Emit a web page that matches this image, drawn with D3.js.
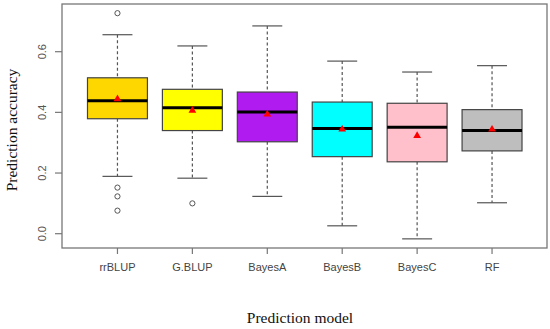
<!DOCTYPE html>
<html><head><meta charset="utf-8">
<script src="https://cdn.jsdelivr.net/npm/d3@7"></script>
<style>body{margin:0;background:#fff}svg{display:block}</style>
</head><body>
<script>
const models = ["rrBLUP","G.BLUP","BayesA","BayesB","BayesC","RF"];
const colors = ["#ffd700","#ffff00","#b01cf0","#00ffff","#ffc0cb","#bebebe"];
const lowerWhisker = [0.189,0.183,0.123,0.026,-0.017,0.102];
const q1 = [0.379,0.340,0.303,0.254,0.237,0.273];
const median = [0.438,0.415,0.401,0.347,0.351,0.340];
const q3 = [0.514,0.476,0.467,0.434,0.430,0.409];
const upperWhisker = [0.656,0.619,0.685,0.569,0.533,0.554];
const means = [0.444,0.406,0.394,0.344,0.323,0.344];
const outliers = [[0.727,0.152,0.123,0.076],[0.100],[],[],[],[]];
const yTicks = [0.0,0.2,0.4,0.6];

const W=550,H=329;
const svg=d3.select("body").append("svg").attr("width",W).attr("height",H);
const L=62,R=547,T=4,B=248;
const y=d3.scaleLinear().domain([0,0.6]).range([233.7,51.7]);
const x=d3.scaleBand().domain(models).range([80,529.5]).paddingInner(0.2).paddingOuter(0.1);
// note: band center positions
const cx=d=>x(d)+x.bandwidth()/2;

const g=svg.append("g");
models.forEach((m,i)=>{
  const c=cx(m), bw=x.bandwidth(), hw=bw*0.5;
  // whiskers dashed
  g.append("line").attr("x1",c).attr("x2",c).attr("y1",y(upperWhisker[i])).attr("y2",y(q3[i]))
    .attr("stroke","#555").attr("stroke-width",1.2).attr("stroke-dasharray","3,2.5");
  g.append("line").attr("x1",c).attr("x2",c).attr("y1",y(q1[i])).attr("y2",y(lowerWhisker[i]))
    .attr("stroke","#555").attr("stroke-width",1.2).attr("stroke-dasharray","3,2.5");
  [upperWhisker[i],lowerWhisker[i]].forEach(v=>{
    g.append("line").attr("x1",c-hw*0.5).attr("x2",c+hw*0.5).attr("y1",y(v)).attr("y2",y(v))
      .attr("stroke","#555").attr("stroke-width",1.2);
  });
  g.append("rect").attr("x",c-hw).attr("width",bw).attr("y",y(q3[i])).attr("height",y(q1[i])-y(q3[i]))
    .attr("fill",colors[i]).attr("stroke","#444").attr("stroke-width",1.2);
  g.append("line").attr("x1",c-hw).attr("x2",c+hw).attr("y1",y(median[i])).attr("y2",y(median[i]))
    .attr("stroke","#000").attr("stroke-width",3);
  outliers[i].forEach(v=>{
    g.append("circle").attr("cx",c).attr("cy",y(v)).attr("r",2.6)
      .attr("fill","none").attr("stroke","#555").attr("stroke-width",1);
  });
  g.append("path").attr("d",d3.symbol().type(d3.symbolTriangle).size(26)())
    .attr("transform",`translate(${c},${y(means[i])})`).attr("fill","#ff0000");
});

// frame
svg.append("rect").attr("x",L).attr("y",T).attr("width",R-L).attr("height",B-T)
  .attr("fill","none").attr("stroke","#777").attr("stroke-width",1.3);

// y axis
const ya=svg.append("g");
yTicks.forEach(v=>{
  ya.append("line").attr("x1",L-7).attr("x2",L).attr("y1",y(v)).attr("y2",y(v)).attr("stroke","#777").attr("stroke-width",1.2);
  ya.append("text").attr("transform",`translate(46,${y(v)}) rotate(-90)`).attr("text-anchor","middle")
    .attr("font-family","Liberation Sans, Arial, sans-serif").attr("font-size",11).attr("fill","#555").text(v.toFixed(1));
});
// x axis
models.forEach(m=>{
  svg.append("line").attr("x1",cx(m)).attr("x2",cx(m)).attr("y1",B).attr("y2",B+6).attr("stroke","#777").attr("stroke-width",1.2);
  svg.append("text").attr("x",cx(m)).attr("y",271).attr("text-anchor","middle")
    .attr("font-family","Liberation Sans, Arial, sans-serif").attr("font-size",11).attr("fill","#444").text(m);
});
svg.append("text").attr("x",300).attr("y",323).attr("text-anchor","middle")
  .attr("font-family","Liberation Serif, Times New Roman, serif").attr("font-size",15.5).attr("fill","#111").text("Prediction model");
svg.append("text").attr("transform","translate(17,130) rotate(-90)").attr("text-anchor","middle")
  .attr("font-family","Liberation Serif, Times New Roman, serif").attr("font-size",15.5).attr("fill","#111").text("Prediction accuracy");
</script>
</body></html>
